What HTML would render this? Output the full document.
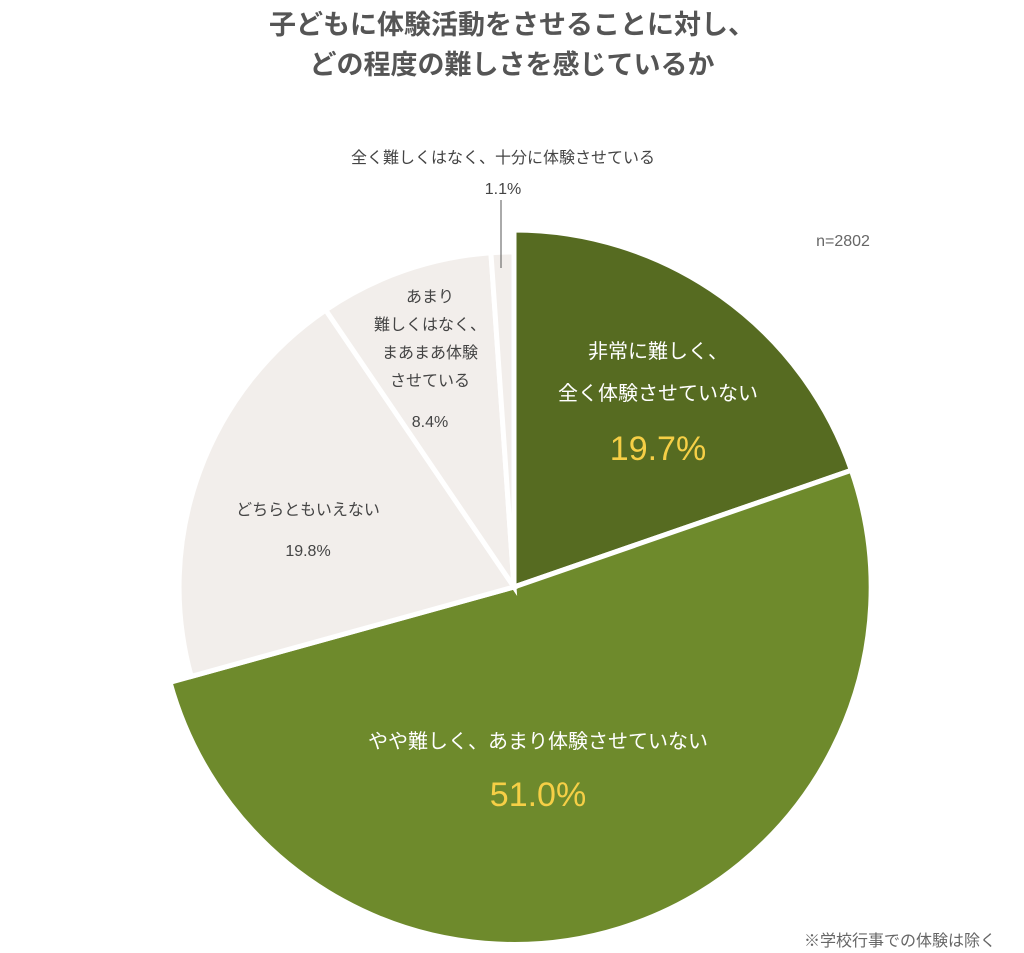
<!DOCTYPE html>
<html><head><meta charset="utf-8"><style>
body{margin:0;background:#fff;}
svg{display:block;font-family:"Liberation Sans","Noto Sans CJK JP",sans-serif;}
</style></head><body>
<svg width="1024" height="953" viewBox="0 0 1024 953" xmlns="http://www.w3.org/2000/svg">
<rect width="1024" height="953" fill="#fff"/>
<text x="512" y="34" text-anchor="middle" font-size="27" font-weight="bold" fill="#555">子どもに体験活動をさせることに対し、</text>
<text x="512" y="74" text-anchor="middle" font-size="27" font-weight="bold" fill="#555">どの程度の難しさを感じているか</text>
<g stroke="#fff" stroke-width="5" stroke-linejoin="miter">
<path d="M514,587 L514,230 A357,357 0 0 1 851.4,470.3 Z" fill="#566b21"/>
<path d="M514,587 L851.4,470.3 A357,357 0 1 1 170,682.3 Z" fill="#6e8a2c"/>
<path d="M514,587 L191.2,676.4 A335,335 0 0 1 325.7,310 Z" fill="#f2eeeb"/>
<path d="M514,587 L325.7,310 A335,335 0 0 1 490.9,252.8 Z" fill="#f2eeeb"/>
<path d="M514,587 L490.9,252.8 A335,335 0 0 1 514,252 Z" fill="#f2eeeb"/>
</g>
<line x1="501" y1="200" x2="501" y2="268" stroke="#555" stroke-width="1"/>
<g font-size="16" fill="#444" text-anchor="middle">
<text x="503" y="163">全く難しくはなく、十分に体験させている</text>
<text x="503" y="194">1.1%</text>
<text x="430" y="302">あまり</text>
<text x="430" y="330">難しくはなく、</text>
<text x="430" y="358">まあまあ体験</text>
<text x="430" y="386">させている</text>
<text x="430" y="427">8.4%</text>
<text x="308" y="515">どちらともいえない</text>
<text x="308" y="556">19.8%</text>
<text x="843" y="246" fill="#666">n=2802</text>
<text x="900" y="946" fill="#666">※学校行事での体験は除く</text>
</g>
<g text-anchor="middle" fill="#fff" font-size="20">
<text x="658" y="358">非常に難しく、</text>
<text x="658" y="400">全く体験させていない</text>
<text x="538" y="748">やや難しく、あまり体験させていない</text>
</g>
<text x="658" y="460" text-anchor="middle" font-size="34" fill="#f6cf46">19.7%</text>
<text x="538" y="806" text-anchor="middle" font-size="34" fill="#f6cf46">51.0%</text>
</svg>
</body></html>
